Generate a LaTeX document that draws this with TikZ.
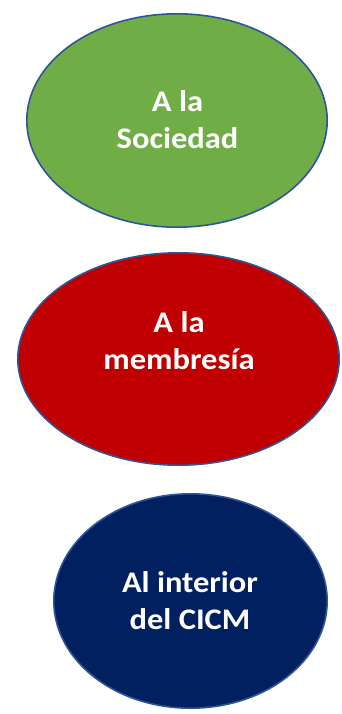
\documentclass[tikz,border=0pt]{standalone}
\usepackage{fontspec}
\usepackage{graphicx}
\setmainfont{Carlito}
\usetikzlibrary{shapes.geometric}
\definecolor{egreen}{HTML}{70AD47}
\definecolor{ered}{HTML}{C00000}
\definecolor{enavy}{HTML}{002060}
\definecolor{eline}{HTML}{2F5597}
\newcommand{\mysq}[1]{\scalebox{1}[0.92]{#1}}
\begin{document}
\begin{tikzpicture}[x=1pt,y=-1pt,
  blob/.style={ellipse,draw=eline,line width=1.6pt,inner sep=0pt},
  lbl/.style={text=white,font=\bfseries\fontsize{32.5}{37}\selectfont,align=center,inner sep=0pt}]
\useasboundingbox (0,0) rectangle (342,714);
\node[blob,fill=egreen,minimum width=300.4pt,minimum height=213.4pt] (soc) at (177,120.5) {};
\node[blob,fill=ered,minimum width=321.4pt,minimum height=212.4pt] (mem) at (178.5,359) {};
\node[blob,fill=enavy,minimum width=273.4pt,minimum height=214.4pt] (int) at (190.5,601) {};
\node[lbl,anchor=base] (tsoc) at (177.5,149) {\mysq{A la}\\\mysq{Sociedad}};
\node[lbl,anchor=base] (tmem) at (179,369) {\mysq{A la}\\\mysq{membresía}};
\node[lbl,anchor=base] (tint) at (190,629) {\mysq{Al interior}\\\mysq{del CICM}};
\end{tikzpicture}
\end{document}
